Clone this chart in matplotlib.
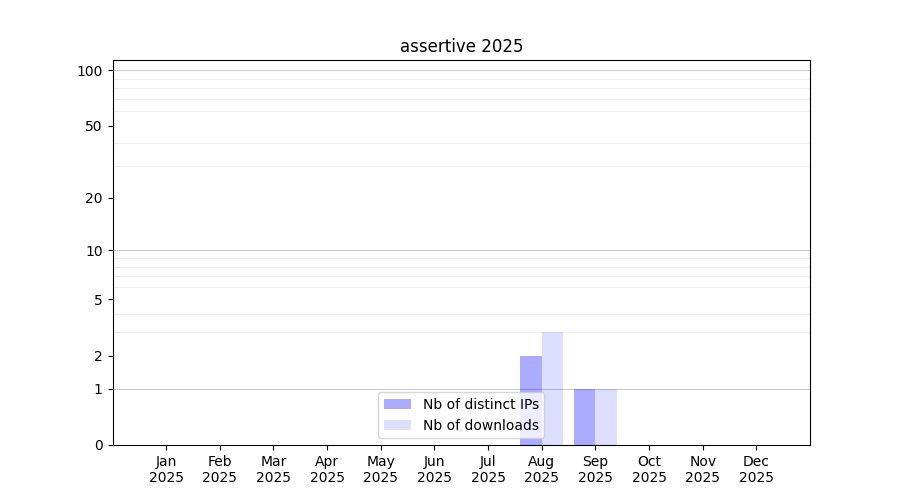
import numpy as np
import matplotlib
matplotlib.use("Agg")
import matplotlib.pyplot as plt

months = ["Jan", "Feb", "Mar", "Apr", "May", "Jun",
          "Jul", "Aug", "Sep", "Oct", "Nov", "Dec"]
year = "2025"
distinct_ips = [0, 0, 0, 0, 0, 0, 0, 2, 1, 0, 0, 0]
downloads = [0, 0, 0, 0, 0, 0, 0, 3, 1, 0, 0, 0]

ytick_values = [0, 1, 2, 5, 10, 20, 50, 100]
minor_grid = [2, 3, 4, 5, 6, 7, 8, 9, 20, 30, 40, 50, 60, 70, 80, 90]
major_grid = [1, 10, 100]


def fwd(v):
    return np.log10(np.asarray(v, dtype=float) + 1)


def inv(v):
    return 10 ** np.asarray(v, dtype=float) - 1


fig, ax = plt.subplots(figsize=(9, 5), dpi=100)
x = np.arange(len(months))
w = 0.4
ax.bar(x - w / 2, distinct_ips, width=w, color="blue", alpha=0.33,
       label="Nb of distinct IPs")
ax.bar(x + w / 2, downloads, width=w, color="blue", alpha=0.13,
       label="Nb of downloads")

ax.set_yscale("function", functions=(fwd, inv))
ax.set_ylim(0, 113.5)
ax.set_xlim(-1, 12)
ax.set_yticks(ytick_values)
ax.set_yticklabels([str(v) for v in ytick_values])
ax.set_yticks(minor_grid, minor=True)
ax.tick_params(axis="y", which="minor", length=0)
ax.grid(False)
ax.yaxis.grid(True, which="minor", color="#eeeeee", linewidth=0.8)
for g in major_grid:
    ax.axhline(g, color="#cccccc", linewidth=0.8, zorder=0.5)
ax.set_axisbelow(True)

ax.set_xticks(x)
ax.set_xticklabels([m + "\n" + year for m in months])
ax.set_title("assertive 2025")
ax.legend(loc="lower center")

fig.savefig("out.png")
